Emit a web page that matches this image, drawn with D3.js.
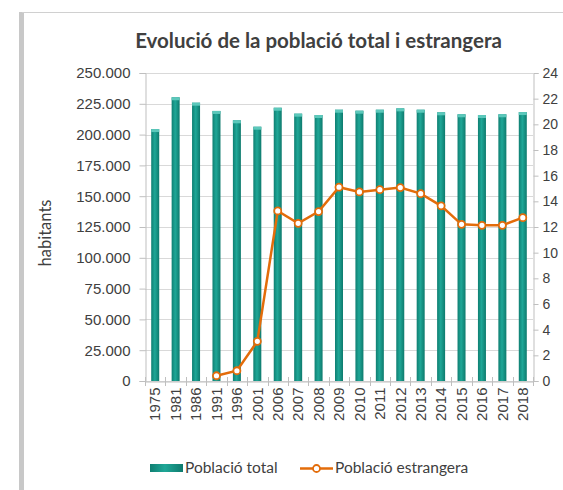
<!DOCTYPE html>
<html>
<head>
<meta charset="utf-8">
<script src="https://cdn.jsdelivr.net/npm/d3@7"></script>
<style>
  body { margin: 0; background: #fff; }
  svg { display: block; font-family: Lato, "Open Sans", sans-serif; }
</style>
</head>
<body>
<svg id="chart" width="563" height="490"></svg>
<script>
// dades llegides del gràfic
const years = ['1975','1981','1986','1991','1996','2001','2006','2007','2008','2009','2010','2011','2012','2013','2014','2015','2016','2017','2018'];
const totalPop = [204500, 230300, 225900, 219200, 211600, 206400, 221800, 217000, 215900, 220200, 219400, 220200, 221300, 220200, 218100, 216500, 215900, 216500, 218300];
const foreignPop = [null, null, null, 0.41, 0.80, 3.09, 13.25, 12.29, 13.2, 15.1, 14.73, 14.91, 15.07, 14.6, 13.65, 12.21, 12.13, 12.13, 12.73];
const leftTicks = [0, 25000, 50000, 75000, 100000, 125000, 150000, 175000, 200000, 225000, 250000];
const rightTicks = [0, 2, 4, 6, 8, 10, 12, 14, 16, 18, 20, 22, 24];

const svg = d3.select('#chart');
const plot = { left: 145, right: 533, top: 73, bottom: 381 };

// marc del gràfic
svg.append('rect').attr('x', 19).attr('y', 12).attr('width', 5).attr('height', 490)
  .attr('fill', '#c8c8c8');
svg.append('line').attr('x1', 22).attr('x2', 563).attr('y1', 12.5).attr('y2', 12.5)
  .attr('stroke', '#d0d0d0');

const defs = svg.append('defs');
const grad = defs.append('linearGradient').attr('id', 'barGrad').attr('x1', 0).attr('x2', 1).attr('y1', 0).attr('y2', 0);
grad.append('stop').attr('offset', '0%').attr('stop-color', '#0f7f72');
grad.append('stop').attr('offset', '45%').attr('stop-color', '#1fa797');
grad.append('stop').attr('offset', '100%').attr('stop-color', '#0e7a6d');

const x = d3.scaleBand().domain(years).range([plot.left, plot.right]);
const yL = d3.scaleLinear().domain([0, 250000]).range([plot.bottom, plot.top]);
const yR = d3.scaleLinear().domain([0, 24]).range([plot.bottom, plot.top]);

const fmt = v => v === 0 ? '0' : d3.format(',')(v).replace(/,/g, '.');

// graella
svg.append('g').selectAll('line').data(leftTicks).join('line')
  .attr('x1', plot.left).attr('x2', plot.right)
  .attr('y1', d => Math.round(yL(d)) + 0.5).attr('y2', d => Math.round(yL(d)) + 0.5)
  .attr('stroke', '#d9d9d9').attr('stroke-width', 1);

// eixos
const axL = svg.append('g').attr('transform', `translate(${plot.left + 0.5},0)`)
  .call(d3.axisLeft(yL).tickValues(leftTicks).tickFormat(fmt).tickSize(6).tickPadding(9));
const axR = svg.append('g').attr('transform', `translate(${plot.right + 0.5},0)`)
  .call(d3.axisRight(yR).tickValues(rightTicks).tickSize(5).tickPadding(4));
const axB = svg.append('g').attr('transform', `translate(0,${plot.bottom + 0.5})`)
  .call(d3.axisBottom(x).tickSize(0).tickPadding(5));

[axL, axR, axB].forEach(a => {
  a.select('.domain').attr('stroke', '#bfbfbf');
  a.selectAll('.tick line').attr('stroke', '#bfbfbf');
  a.selectAll('text').attr('fill', '#404040').style('font-size', '15px');
});
axR.selectAll('text').style('font-size', '14px');
axB.selectAll('.tick text')
  .attr('transform', 'rotate(-90)').attr('text-anchor', 'end')
  .attr('x', -6).attr('y', 0).attr('dy', '0.35em');

// marques de l'eix X entre categories
svg.append('g').selectAll('line').data(years.concat(['end'])).join('line')
  .attr('x1', (d, i) => Math.round(plot.left + i * x.step()) + 0.5)
  .attr('x2', (d, i) => Math.round(plot.left + i * x.step()) + 0.5)
  .attr('y1', plot.bottom - 4).attr('y2', plot.bottom + 5)
  .attr('stroke', '#bfbfbf');

// barres
const barW = 8;
const bars = svg.append('g').selectAll('g').data(years).join('g');
bars.append('rect')
  .attr('x', d => x(d) + x.bandwidth() / 2 - barW / 2)
  .attr('y', (d, i) => yL(totalPop[i]))
  .attr('width', barW)
  .attr('height', (d, i) => plot.bottom - yL(totalPop[i]))
  .attr('fill', 'url(#barGrad)');
bars.append('rect')
  .attr('x', d => x(d) + x.bandwidth() / 2 - barW / 2)
  .attr('y', (d, i) => yL(totalPop[i]))
  .attr('width', barW).attr('height', 3)
  .attr('fill', '#5cc8bb');

// línia de població estrangera
const pts = years.map((d, i) => ({ year: d, v: foreignPop[i] })).filter(d => d.v !== null);
const line = d3.line().x(d => x(d.year) + x.bandwidth() / 2).y(d => yR(d.v));
svg.append('path').datum(pts).attr('d', line)
  .attr('fill', 'none').attr('stroke', '#e36c0a').attr('stroke-width', 2.5);
svg.append('g').selectAll('circle').data(pts).join('circle')
  .attr('cx', d => x(d.year) + x.bandwidth() / 2).attr('cy', d => yR(d.v))
  .attr('r', 3.5).attr('fill', '#fff').attr('stroke', '#e36c0a').attr('stroke-width', 1.8);

// títols
svg.append('text').attr('x', 318.5).attr('y', 48).attr('text-anchor', 'middle')
  .style('font-size', '20.5px').style('font-weight', 'bold').attr('fill', '#404040')
  .text('Evolució de la població total i estrangera');
svg.append('text').attr('transform', 'translate(51,233) rotate(-90)').attr('text-anchor', 'middle')
  .style('font-size', '16.5px').attr('fill', '#404040').text('habitants');

// llegenda
const lg = svg.append('g');
lg.append('rect').attr('x', 150).attr('y', 464).attr('width', 33).attr('height', 8).attr('fill', 'url(#barGrad)');
lg.append('text').attr('x', 185).attr('y', 473).style('font-size', '15.5px').attr('fill', '#404040').text('Població total');
lg.append('line').attr('x1', 300).attr('x2', 333).attr('y1', 468.5).attr('y2', 468.5).attr('stroke', '#e36c0a').attr('stroke-width', 2.5);
lg.append('circle').attr('cx', 316.5).attr('cy', 468.5).attr('r', 3.5).attr('fill', '#fff').attr('stroke', '#e36c0a').attr('stroke-width', 1.8);
lg.append('text').attr('x', 335).attr('y', 473).style('font-size', '15.5px').attr('fill', '#404040').text('Població estrangera');
</script>
</body>
</html>
